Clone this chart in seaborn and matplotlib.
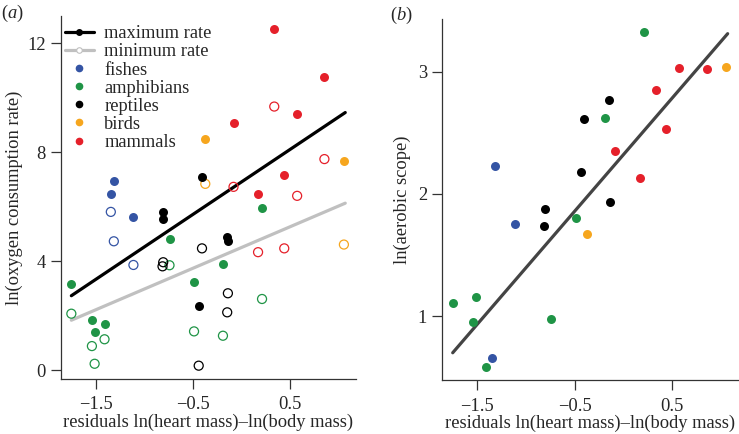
import numpy as np
import pandas as pd
import matplotlib
matplotlib.use("Agg")
import matplotlib.pyplot as plt
from matplotlib.lines import Line2D
import seaborn as sns

# residuals ln(heart mass) - ln(body mass), one entry per species
fish_x = [-1.315, -1.346, -1.113]
amph_x = [0.213, -0.741, -0.19, -1.753, -0.488, -1.541, -1.411, -1.513]
rept_x = [-0.406, -0.806, -0.813, -0.146, -0.139, -0.44]
bird_x = [-0.372, 1.057]
mamm_x = [0.339, 0.856, 0.575, -0.081, 0.442, 0.172]

# ln(oxygen consumption rate), maximum and minimum
fish_max = [6.96, 6.47, 5.61]
fish_min = [4.73, 5.81, 3.86]
amph_max = [5.94, 4.82, 3.89, 3.17, 3.22, 1.84, 1.70, 1.39]
amph_min = [2.61, 3.85, 1.26, 2.07, 1.42, 0.88, 1.13, 0.23]
rept_max = [7.08, 5.82, 5.55, 4.90, 4.74, 2.34]
rept_min = [4.47, 3.96, 3.81, 2.12, 2.82, 0.16]
bird_max = [8.50, 7.67]
bird_min = [6.84, 4.61]
mamm_max = [12.53, 10.77, 9.42, 9.09, 7.16, 6.47]
mamm_min = [9.68, 7.75, 6.40, 6.73, 4.47, 4.33]

# ln(aerobic scope)
fish_scope = [2.23, 0.66, 1.75]
amph_scope = [3.32, 0.98, 2.62, 1.11, 1.80, 0.95, 0.58, 1.16]
rept_scope = [2.61, 1.88, 1.74, 2.77, 1.93, 2.18]
bird_scope = [1.67, 3.04]
mamm_scope = [2.85, 3.02, 3.03, 2.35, 2.53, 2.13]

# fitted lines (end points)
fit_x = [-1.753, 1.071]
fit_max = [2.73, 9.46]
fit_min = [1.83, 6.13]
fit_scope = [0.70, 3.31]

groups = ["fishes", "amphibians", "reptiles", "birds", "mammals"]
colors = ["#3454a4", "#1f9446", "#000000", "#f6a61e", "#e5202a"]
xs = [fish_x, amph_x, rept_x, bird_x, mamm_x]
maxs = [fish_max, amph_max, rept_max, bird_max, mamm_max]
mins = [fish_min, amph_min, rept_min, bird_min, mamm_min]
scopes = [fish_scope, amph_scope, rept_scope, bird_scope, mamm_scope]

sns.set_style("white")
plt.rcParams["font.family"] = ["Liberation Serif", "DejaVu Serif"]
plt.rcParams["mathtext.fontset"] = "custom"
plt.rcParams["mathtext.it"] = "Liberation Serif:italic"
plt.rcParams["mathtext.rm"] = "Liberation Serif"

fig = plt.figure(figsize=(7.39, 4.34), dpi=100)
ax1 = fig.add_axes([0.0825, 0.1267, 0.399, 0.836])
ax2 = fig.add_axes([0.5985, 0.1235, 0.4005, 0.8327])

fs = 13.3
dot = 42

# (a) oxygen consumption
sns.lineplot(x=fit_x, y=fit_max, color="black", lw=2.3, ax=ax1)
sns.lineplot(x=fit_x, y=fit_min, color="#c0c0c0", lw=2.3, ax=ax1)
for g, c, x, ymax, ymin in zip(groups, colors, xs, maxs, mins):
    sns.scatterplot(x=x, y=ymin, marker="o", s=dot, facecolors="none",
                    edgecolor=c, linewidth=0.9, ax=ax1, zorder=3)
    sns.scatterplot(x=x, y=ymax, marker="o", s=dot, color=c,
                    edgecolor=c, linewidth=0, ax=ax1, zorder=4)

ax1.set_xlim(-1.86, 1.18)
ax1.set_ylim(-0.33, 13.0)
ax1.set_xticks([-1.5, -0.5, 0.5])
ax1.set_yticks([0, 4, 8, 12])
ax1.set_xlabel("residuals ln(heart mass)\u2013ln(body mass)", fontsize=fs, labelpad=0)
ax1.set_ylabel("ln(oxygen consumption rate)", fontsize=fs, labelpad=3)

handles = [
    Line2D([], [], color="black", lw=2.3, marker="o", ms=4, mfc="black", mec="black"),
    Line2D([], [], color="#c0c0c0", lw=2.3, marker="o", ms=4, mfc="white", mec="#c0c0c0", mew=0.8),
]
for c in colors:
    handles.append(Line2D([], [], ls="none", marker="o", ms=4.5, mfc=c, mec=c))
labels = ["maximum rate", "minimum rate"] + groups
ax1.legend(handles, labels, loc="upper left", bbox_to_anchor=(0.0, 0.985),
           frameon=False, fontsize=fs, handlelength=1.6, handletextpad=0.55,
           labelspacing=0.06, borderpad=0.0, borderaxespad=0.2)

# (b) aerobic scope
sns.lineplot(x=fit_x, y=fit_scope, color="#444444", lw=2.3, ax=ax2)
for g, c, x, sc in zip(groups, colors, xs, scopes):
    sns.scatterplot(x=x, y=sc, marker="o", s=dot, color=c,
                    edgecolor=c, linewidth=0, ax=ax2, zorder=4)

ax2.set_xlim(-1.86, 1.18)
ax2.set_ylim(0.474, 3.43)
ax2.set_xticks([-1.5, -0.5, 0.5])
ax2.set_yticks([1, 2, 3])
ax2.set_xlabel("residuals ln(heart mass)\u2013ln(body mass)", fontsize=fs, labelpad=0)
ax2.set_ylabel("ln(aerobic scope)", fontsize=fs, labelpad=5)

for ax in (ax1, ax2):
    sns.despine(ax=ax)
    for sp in ("left", "bottom"):
        ax.spines[sp].set_color("#333333")
        ax.spines[sp].set_linewidth(0.9)
    ax.tick_params(axis="both", direction="out", length=7, width=0.9,
                   color="#333333", labelsize=fs, pad=4, left=True, bottom=True)
    ax.tick_params(axis="x", pad=5.5)

fig.text(0.002, 0.97, r"($\mathit{a}$)", fontsize=fs, va="center", ha="left")
fig.text(0.528, 0.965, r"($\mathit{b}$)", fontsize=fs, va="center", ha="left")

fig.savefig("out.png", dpi=100)
